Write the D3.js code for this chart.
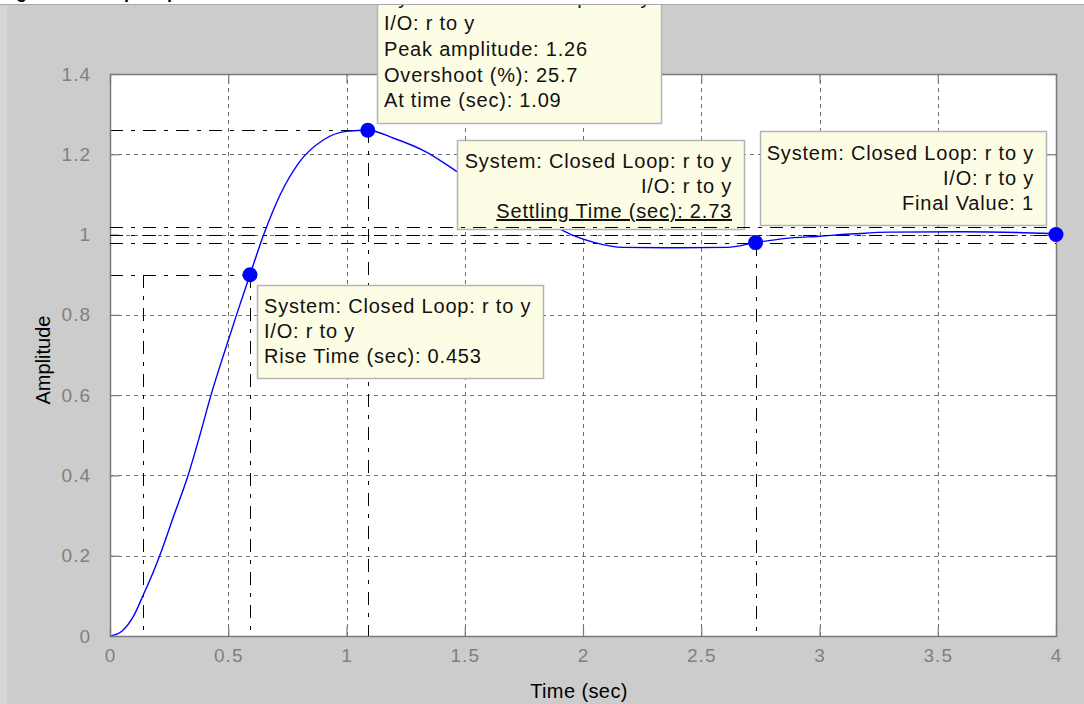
<!DOCTYPE html>
<html>
<head>
<meta charset="utf-8">
<script src="https://cdn.jsdelivr.net/npm/d3@7/dist/d3.min.js"></script>
<style>
  html, body { margin: 0; padding: 0; background: #ffffff; }
  svg { display: block; }
</style>
</head>
<body>
<svg id="chart" width="1084" height="704"></svg>
<script>
// Closed loop step response r -> y
const timeSec = [0, 0.05, 0.1, 0.139, 0.18, 0.21, 0.27, 0.33, 0.38, 0.427, 0.48, 0.535, 0.592,
  0.65, 0.72, 0.8, 0.9, 1.0, 1.09, 1.2, 1.34, 1.47, 1.6, 1.75, 1.85, 1.95, 2.05, 2.17,
  2.4, 2.61, 2.73, 2.85, 3.0, 3.15, 3.3, 3.6, 3.9, 4.0];
const amplitude = [0, 0.012, 0.05, 0.1, 0.155, 0.2, 0.3, 0.4, 0.5, 0.6, 0.7, 0.8, 0.9,
  1.0, 1.1, 1.18, 1.235, 1.257, 1.26, 1.24, 1.205, 1.156, 1.11, 1.06, 1.03, 1.0, 0.98, 0.968,
  0.967, 0.968, 0.98, 0.99, 0.996, 1.002, 1.006, 1.007, 1.004, 1.002];

const xTicks = [0, 0.5, 1, 1.5, 2, 2.5, 3, 3.5, 4];
const yTicks = [0, 0.2, 0.4, 0.6, 0.8, 1, 1.2, 1.4];
const xTickLabels = ["0", "0.5", "1", "1.5", "2", "2.5", "3", "3.5", "4"];
const yTickLabels = ["0", "0.2", "0.4", "0.6", "0.8", "1", "1.2", "1.4"];

// Response characteristics
const riseStart = 0.139, riseEnd = 0.592, riseHigh = 0.9, riseTime = 0.453;
const peakTime = 1.09, peakAmp = 1.26, overshoot = 25.7;
const settleTime = 2.73, settleAmp = 0.98, settleBand = [0.98, 1.02];
const finalValue = 1, finalTime = 4;

const riseText = ["System: Closed Loop: r to y", "I/O: r to y", "Rise Time (sec): " + riseTime];
const peakText = ["System: Closed Loop: r to y", "I/O: r to y", "Peak amplitude: " + peakAmp,
  "Overshoot (%): " + overshoot, "At time (sec): " + peakTime];
const settleText = ["System: Closed Loop: r to y", "I/O: r to y", "Settling Time (sec): " + settleTime];
const finalText = ["System: Closed Loop: r to y", "I/O: r to y", "Final Value: " + finalValue];

const W = 1084, H = 704;
const plot = { left: 110, right: 1056, top: 74, bottom: 636 };
const FONT = "Arial, 'Liberation Sans', sans-serif";

const svg = d3.select("#chart");
const x = d3.scaleLinear().domain([0, 4]).range([plot.left, plot.right]);
const y = d3.scaleLinear().domain([0, 1.4]).range([plot.bottom, plot.top]);

// figure background
svg.append("rect").attr("width", W).attr("height", H).attr("fill", "#cccccc");
svg.append("rect").attr("x", 0).attr("y", 0).attr("width", 7).attr("height", H).attr("fill", "#d6d6d6");

// axes area
svg.append("rect")
  .attr("x", plot.left).attr("y", plot.top)
  .attr("width", plot.right - plot.left).attr("height", plot.bottom - plot.top)
  .attr("fill", "#ffffff");

// grid
const grid = svg.append("g").attr("stroke", "#6e6e6e").attr("stroke-width", 1)
  .attr("stroke-dasharray", "4,4").attr("shape-rendering", "crispEdges");
grid.selectAll("line.gx").data(xTicks.slice(1, -1)).join("line")
  .attr("x1", d => Math.round(x(d)) + 0.5).attr("x2", d => Math.round(x(d)) + 0.5)
  .attr("y1", plot.bottom).attr("y2", plot.top);
grid.selectAll("line.gy").data(yTicks.slice(1, -1)).join("line")
  .attr("y1", d => Math.round(y(d)) + 0.5).attr("y2", d => Math.round(y(d)) + 0.5)
  .attr("x1", plot.left).attr("x2", plot.right);

// characteristic guide lines (dash-dot), drawn under the data tips
const dashDot = "13,8,4,8";
const guides = svg.append("g").attr("stroke", "#000").attr("stroke-width", 1)
  .attr("fill", "none").attr("stroke-dasharray", dashDot).attr("shape-rendering", "crispEdges");
const vGuides = [
  { t: riseStart, a: riseHigh },
  { t: riseEnd, a: riseHigh },
  { t: peakTime, a: peakAmp },
  { t: settleTime, a: settleAmp }
];
guides.selectAll("line.v").data(vGuides).join("line")
  .attr("x1", d => Math.round(x(d.t)) + 0.5).attr("x2", d => Math.round(x(d.t)) + 0.5)
  .attr("y1", d => y(d.a)).attr("y2", plot.bottom);
const hGuides = [
  { a: riseHigh, t: riseEnd },
  { a: peakAmp, t: peakTime }
];
guides.selectAll("line.h").data(hGuides).join("line")
  .attr("y1", d => Math.round(y(d.a)) + 0.5).attr("y2", d => Math.round(y(d.a)) + 0.5)
  .attr("x1", plot.left).attr("x2", d => x(d.t));

// response curve
const pts = timeSec.map((t, i) => [t, amplitude[i]]);
svg.append("path").datum(pts)
  .attr("fill", "none").attr("stroke", "#0000ff").attr("stroke-width", 1.4)
  .attr("d", d3.line().x(d => x(d[0])).y(d => y(d[1])).curve(d3.curveMonotoneX));

// axes frame and ticks
const axisColor = "#7a7a7a";
svg.append("rect")
  .attr("x", plot.left + 0.5).attr("y", plot.top + 0.5)
  .attr("width", plot.right - plot.left).attr("height", plot.bottom - plot.top)
  .attr("fill", "none").attr("stroke", axisColor).attr("stroke-width", 1.5);

const axB = svg.append("g").attr("transform", `translate(0,${plot.bottom})`)
  .call(d3.axisBottom(x).tickValues(xTicks).tickFormat((d, i) => xTickLabels[i]).tickSizeInner(-9).tickSizeOuter(0).tickPadding(13));
const axL = svg.append("g").attr("transform", `translate(${plot.left},0)`)
  .call(d3.axisLeft(y).tickValues(yTicks).tickFormat((d, i) => yTickLabels[i]).tickSizeInner(-9).tickSizeOuter(0).tickPadding(19));
const axT = svg.append("g").attr("transform", `translate(0,${plot.top})`)
  .call(d3.axisTop(x).tickValues(xTicks).tickFormat("").tickSizeInner(-9).tickSizeOuter(0));
const axR = svg.append("g").attr("transform", `translate(${plot.right},0)`)
  .call(d3.axisRight(y).tickValues(yTicks).tickFormat("").tickSizeInner(-9).tickSizeOuter(0));
[axB, axL, axT, axR].forEach(g => {
  g.select(".domain").remove();
  g.selectAll(".tick line").attr("stroke", axisColor).attr("stroke-width", 1.2);
  g.selectAll(".tick text").attr("fill", "#808080")
    .style("font-family", FONT).style("font-size", "19px").style("letter-spacing", "1px");
});
axB.selectAll(".tick text").attr("dy", "0.71em");

// axis titles
svg.append("text").attr("x", 579).attr("y", 698).attr("text-anchor", "middle")
  .style("font-family", FONT).style("font-size", "20px").style("letter-spacing", "0.4px")
  .attr("fill", "#000").text("Time (sec)");
svg.append("text").attr("transform", "translate(50,360) rotate(-90)").attr("text-anchor", "middle")
  .style("font-family", FONT).style("font-size", "20px")
  .attr("fill", "#000").text("Amplitude");

// data tips
function dataTip(box, lines, align, baselines, underlineLast) {
  const g = svg.append("g");
  g.append("rect").attr("x", box.x + 0.5).attr("y", box.y + 0.5)
    .attr("width", box.w).attr("height", box.h)
    .attr("fill", "#fdfde6").attr("stroke", "#b4b4b4").attr("stroke-width", 1.5);
  const tx = align === "end" ? box.x + box.w - 12 : box.x + 7;
  g.selectAll("text").data(lines).join("text")
    .attr("x", tx).attr("y", (d, i) => baselines[i])
    .attr("text-anchor", align)
    .style("font-family", FONT).style("font-size", "20px").style("letter-spacing", "0.8px")
    .style("text-decoration", (d, i) => underlineLast && i === lines.length - 1 ? "underline" : "none")
    .attr("fill", "#111").text(d => d);
}
dataTip({ x: 377, y: -20, w: 284, h: 143 }, peakText, "start", [4, 30, 56, 82, 107], false);
dataTip({ x: 257, y: 285, w: 286, h: 93 }, riseText, "start", [313, 338, 363], false);
dataTip({ x: 457, y: 140, w: 287, h: 89 }, settleText, "end", [168, 193, 218], true);
dataTip({ x: 760, y: 131, w: 286, h: 94 }, finalText, "end", [160, 185, 210], false);

// settling band and final value lines
const band = svg.append("g").attr("stroke", "#000").attr("stroke-width", 1)
  .attr("stroke-dasharray", dashDot).attr("shape-rendering", "crispEdges");
band.selectAll("line").data([settleBand[1], finalValue, settleBand[0]]).join("line")
  .attr("y1", d => Math.round(y(d)) + 0.5).attr("y2", d => Math.round(y(d)) + 0.5)
  .attr("x1", plot.left).attr("x2", plot.right);

// markers
const markers = [
  { t: riseEnd, a: riseHigh },
  { t: peakTime, a: peakAmp },
  { t: settleTime, a: settleAmp },
  { t: finalTime, a: finalValue }
];
svg.selectAll("circle.mk").data(markers).join("circle")
  .attr("cx", d => x(d.t)).attr("cy", d => y(d.a)).attr("r", 7.5)
  .attr("fill", "#0000ff");

// page strip above the figure window
svg.append("rect").attr("x", 0).attr("y", 0).attr("width", W).attr("height", 4).attr("fill", "#ffffff");
svg.append("line").attr("x1", 0).attr("x2", W).attr("y1", 4.5).attr("y2", 4.5)
  .attr("stroke", "#a8a8a8").attr("stroke-width", 1);
svg.append("text").attr("x", 0).attr("y", -2)
  .style("font-family", FONT).style("font-size", "18px").style("font-weight", "bold")
  .attr("fill", "#000").text("Figure 4.6: Step response");
</script>
</body>
</html>
